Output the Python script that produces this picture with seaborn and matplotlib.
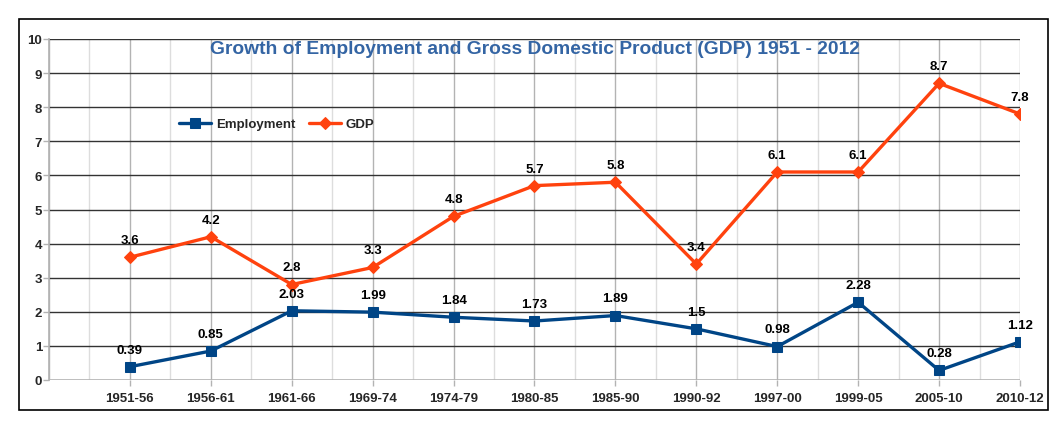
import pandas as pd
import seaborn as sns
import matplotlib.pyplot as plt
from matplotlib.patches import Rectangle
from matplotlib.ticker import MultipleLocator

periods = ['1951-56', '1956-61', '1961-66', '1969-74', '1974-79', '1980-85',
           '1985-90', '1990-92', '1997-00', '1999-05', '2005-10', '2010-12']
employment = [0.39, 0.85, 2.03, 1.99, 1.84, 1.73, 1.89, 1.5, 0.98, 2.28, 0.28, 1.12]
gdp = [3.6, 4.2, 2.8, 3.3, 4.8, 5.7, 5.8, 3.4, 6.1, 6.1, 8.7, 7.8]

emp_color = '#004586'
gdp_color = '#ff420e'

sns.set_theme(style='white')
plt.rcParams['font.family'] = ['Liberation Sans', 'DejaVu Sans']
plt.rcParams['font.weight'] = 'bold'

df = pd.DataFrame({'pos': range(len(periods)), 'Employment': employment, 'GDP': gdp})

fig = plt.figure(figsize=(10.58, 4.31), dpi=100)
ax = fig.add_axes([49 / 1058, 1 - 381 / 431, 971 / 1058, 341 / 431])

# outer frame of the chart
fig.patches.append(Rectangle((19 / 1058, 1 - 411 / 431), 1029 / 1058, 391 / 431,
                             transform=fig.transFigure, fill=False,
                             edgecolor='black', linewidth=1.2))

sns.lineplot(data=df, x='pos', y='Employment', ax=ax, color=emp_color, linewidth=2.4,
             marker='s', markersize=7.5, markeredgecolor=emp_color, label='Employment', zorder=4)
sns.lineplot(data=df, x='pos', y='GDP', ax=ax, color=gdp_color, linewidth=2.4,
             marker='D', markersize=6.5, markeredgecolor=gdp_color, label='GDP', zorder=4)

# data labels
for i in range(len(periods)):
    ax.annotate(f'{employment[i]:g}', (i, employment[i]), xytext=(0, 8),
                textcoords='offset points', ha='center', va='bottom',
                fontsize=9.5, fontweight='bold', color='black', zorder=5)
    ax.annotate(f'{gdp[i]:g}', (i, gdp[i]), xytext=(0, 8),
                textcoords='offset points', ha='center', va='bottom',
                fontsize=9.5, fontweight='bold', color='black', zorder=5)

ax.set_xlim(-1, len(periods) - 1)
ax.set_ylim(0, 10)
ax.set_xticks(range(len(periods)))
ax.set_xticklabels(periods)
ax.xaxis.set_minor_locator(MultipleLocator(0.5))
ax.yaxis.set_major_locator(MultipleLocator(1))
ax.set_xlabel('')
ax.set_ylabel('')

# gridlines
ax.set_axisbelow(True)
for x in range(-1, len(periods)):
    ax.axvline(x, color='#b3b3b3', linewidth=1, zorder=1)
    ax.axvline(x + 0.5, color='#dddddd', linewidth=1, zorder=0.9)
for y in range(1, 11):
    ax.axhline(y, color='#333333', linewidth=1, zorder=1.5)
ax.axhline(0, color='#b3b3b3', linewidth=1.2, zorder=1.5)

for s in ['top', 'right', 'bottom']:
    ax.spines[s].set_visible(False)
ax.spines['left'].set_color('#b3b3b3')
ax.tick_params(axis='both', which='major', length=4, color='#b3b3b3', width=1,
               labelsize=9.5, bottom=True, left=True)
ax.tick_params(axis='x', which='minor', length=0)
ax.tick_params(axis='x', pad=5)
ax.tick_params(axis='y', pad=1)
for lbl in ax.get_xticklabels() + ax.get_yticklabels():
    lbl.set_fontweight('bold')

ax.text(0.5, 0.997, 'Growth of Employment and Gross Domestic Product (GDP) 1951 - 2012',
        transform=ax.transAxes, ha='center', va='top', fontsize=13.9,
        fontweight='bold', color='#3465a4')

leg = ax.legend(loc='center left', bbox_to_anchor=(0.122, 0.75), frameon=False, ncol=2,
                fontsize=9.5, handlelength=2.4, columnspacing=1.0, handletextpad=0.4)
for t in leg.get_texts():
    t.set_fontweight('bold')

fig.savefig('out.png', dpi=100)
